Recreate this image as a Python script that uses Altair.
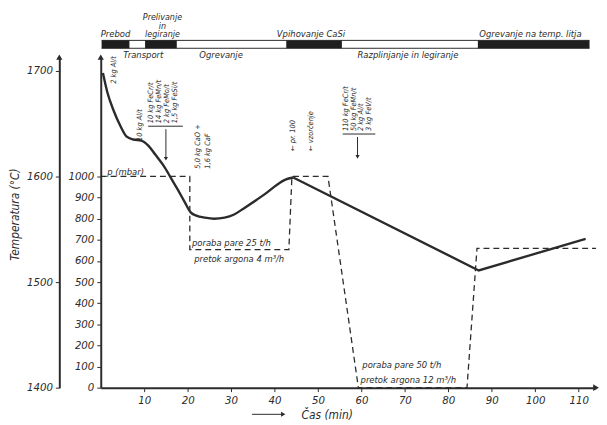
import altair as alt
import pandas as pd

FONT = "Liberation Sans Narrow, DejaVu Sans Condensed, sans-serif"
INK = "#2b2b2b"

# ---- temperature curve (°C) vs. time (min) ----
curve_t = [0.5, 1.5, 3.0, 4.5, 5.9, 7.5, 9.3, 11.0, 12.5, 14.5, 16.1, 17.8, 19.3,
           20.7, 22.0, 24.0, 26.1, 28.5, 30.7, 33.0, 35.9, 38.0, 40.5, 42.5, 44.3]
curve_T = [1698, 1680, 1662, 1648, 1638, 1635, 1634, 1629, 1621, 1610, 1599, 1587, 1576,
           1566, 1563, 1561, 1560, 1561, 1564, 1570, 1578, 1584, 1592, 1597, 1599]
line_t = [44.3, 87.0, 111.6]
line_T = [1599, 1511, 1541]

# ---- pressure p (mbar), dashed ----
p_t = [0, 20.5, 20.5, 43.3, 44.0, 52.3, 59.3, 84.3, 86.6, 114.0]
p_v = [1000, 1000, 654, 654, 1000, 1000, 0, 0, 660, 660]

# ---- operations bar ----
op_start = [0.2, 10.2, 42.7, 86.8]
op_end = [6.6, 17.5, 55.5, 112.5]
top_text = ["Prebod", "Vpihovanje CaSi", "Ogrevanje na temp. litja"]
top_t = [3.4, 48.4, 98.9]
top2_text = ["Prelivanje\nin\nlegiranje"]
top2_t = [14.2]
low_text = ["Transport", "Ogrevanje", "Razplinjanje in legiranje"]
low_t = [9.8, 27.7, 70.7]

# ---- vertical annotations (anchor = lower end, in mbar units) ----
ann_text = ["2 kg Al/t", "10 kg Al/t",
            "10 kg FeCr/t", "14 kg FeMn/t", "2 kg FeMo/t", "1,5 kg FeSi/t",
            "5,0 kg CaO +", "1,6 kg CaF",
            "\u2190  pr. 100", "\u2190  vzorčenje",
            "110 kg FeCr/t", "50 kg FeMn/t", "2 kg Al/t", "3 kg FeV/t"]
ann_t = [3.0, 9.1,
         11.6, 13.4, 15.2, 17.0,
         22.3, 24.6,
         44.2, 48.3,
         56.4, 58.2, 60.0, 61.8]
ann_p = [1439, 1168,
         1252, 1252, 1252, 1252,
         1037, 1037,
         1121, 1121,
         1215, 1215, 1215, 1215]

# underline + arrow of the two addition blocks
blk_t1 = [10.9, 55.7]
blk_t2 = [18.9, 63.2]
blk_line = [1238, 1201]
arr_t = [15.0, 59.1]
arr_top = [1224, 1187]
arr_bot = [1084, 1093]

# ---- horizontal notes ----
note_text = ["p (mbar)", "poraba pare 25 t/h", "pretok argona 4 m\u00b3/h",
             "poraba pare 50 t/h", "pretok argona 12 m\u00b3/h"]
note_t = [1.5, 21.0, 21.5, 60.2, 59.8]
note_p = [1022, 687, 607, 107, 37]

x_ticks = [10, 20, 30, 40, 50, 60, 70, 80, 90, 100, 110]
p_ticks = [0, 100, 200, 300, 400, 500, 600, 700, 800, 900, 1000]
T_ticks = [1400, 1500, 1600, 1700]

XDOM = [0, 114]
PDOM = [0, 1565]
TDOM = [1400, 1713]

xs = alt.Scale(domain=XDOM, nice=False, zero=False)
ps = alt.Scale(domain=PDOM, nice=False, zero=False)
Ts = alt.Scale(domain=TDOM, nice=False, zero=False)

x_axis = alt.Axis(values=x_ticks, grid=False, domainWidth=2, domainColor=INK,
                  tickColor=INK, tickSize=4, labelFont=FONT, labelFontSize=11.5,
                  labelFontStyle="italic", labelColor=INK, labelPadding=3, format="d",
                  labelOverlap=False,
                  title="Čas (min)", titleFont=FONT, titleFontSize=12,
                  titleFontStyle="italic", titleFontWeight="normal", titleColor=INK,
                  titleX=229, titleY=27, titleAlign="center", titleBaseline="middle")
p_axis = alt.Axis(values=p_ticks, grid=False, domainWidth=2, domainColor=INK,
                  tickColor=INK, tickSize=4, labelFont=FONT, labelFontSize=11.5,
                  labelFontStyle="italic", labelColor=INK, labelPadding=3, title=None,
                  labelOverlap=False, format="d", orient="left")
T_axis = alt.Axis(values=T_ticks, grid=False, domainWidth=2, domainColor=INK,
                  tickColor=INK, tickSize=4, labelFont=FONT, labelFontSize=11.5,
                  labelFontStyle="italic", labelColor=INK, labelPadding=3, format="d",
                  labelOverlap=False, orient="left", offset=42,
                  title="Temperatura (°C)", titleFont=FONT, titleFontSize=12,
                  titleFontStyle="italic", titleFontWeight="normal", titleColor=INK,
                  titleAngle=270, titleX=-45, titleY=159, titleAlign="center",
                  titleBaseline="middle")


def X(f):
    return alt.X(f, type="quantitative", scale=xs, axis=x_axis)


def Y(f):
    return alt.Y(f, type="quantitative", scale=ps, axis=p_axis)


def YT(f):
    return alt.Y(f, type="quantitative", scale=Ts, axis=T_axis)


df_curve = pd.DataFrame({"t": curve_t, "T": curve_T})
df_line = pd.DataFrame({"t": line_t, "T": line_T})
df_p = pd.DataFrame({"t": p_t, "p": p_v, "i": list(range(len(p_t)))})
df_op = pd.DataFrame({"a": op_start, "b": op_end})
df_top = pd.DataFrame({"t": top_t, "txt": top_text})
df_top2 = pd.DataFrame({"t": top2_t, "txt": top2_text})
df_low = pd.DataFrame({"t": low_t, "txt": low_text})
df_ann = pd.DataFrame({"t": ann_t, "p": ann_p, "txt": ann_text})
df_blk = pd.DataFrame({"a": blk_t1, "b": blk_t2, "p": blk_line})
df_arr = pd.DataFrame({"t": arr_t, "p1": arr_top, "p2": arr_bot})
df_note = pd.DataFrame({"t": note_t, "p": note_p, "txt": note_text})
df_bar = pd.DataFrame({"a": [min(op_start)], "b": [max(op_end)]})
df_xarrow = pd.DataFrame({"t": [XDOM[1]], "p": [0]})
df_yarrow = pd.DataFrame({"t": [0], "p": [PDOM[1]]})
df_title_arrow = pd.DataFrame({"a": [34.8], "b": [42.0]})

# --- layers on the mbar scale ---
dashed = alt.Chart(df_p).mark_line(color=INK, strokeWidth=1.3, strokeDash=[6, 4]).encode(
    x=X("t"), y=Y("p"), order="i:Q")

bar_lines = alt.Chart(df_bar).mark_rule(color=INK, strokeWidth=1).encode(
    x=X("a"), x2="b:Q", y=alt.value(-17))
bar_lines2 = alt.Chart(df_bar).mark_rule(color=INK, strokeWidth=1).encode(
    x=X("a"), x2="b:Q", y=alt.value(-9))
blocks = alt.Chart(df_op).mark_rect(color="#1e1e1e").encode(
    x=X("a"), x2="b:Q", y=alt.value(-17), y2=alt.value(-9))
top_lab = alt.Chart(df_top).mark_text(font=FONT, fontSize=9.5, fontStyle="italic",
                                      color=INK, baseline="bottom").encode(
    x=X("t"), y=alt.value(-18), text="txt:N")
top_lab2 = alt.Chart(df_top2).mark_text(font=FONT, fontSize=9, fontStyle="italic",
                                        color=INK, baseline="top", lineHeight=9,
                                        lineBreak="\n").encode(
    x=X("t"), y=alt.value(-45), text="txt:N")
low_lab = alt.Chart(df_low).mark_text(font=FONT, fontSize=9.5, fontStyle="italic",
                                      color=INK, baseline="middle").encode(
    x=X("t"), y=alt.value(-2), text="txt:N")

ann = alt.Chart(df_ann).mark_text(font=FONT, fontSize=7.5, fontStyle="italic", color=INK,
                                  angle=270, align="left", baseline="middle").encode(
    x=X("t"), y=Y("p"), text="txt:N")
blk = alt.Chart(df_blk).mark_rule(color=INK, strokeWidth=1).encode(
    x=X("a"), x2="b:Q", y=Y("p"))
arr = alt.Chart(df_arr).mark_rule(color=INK, strokeWidth=1).encode(
    x=X("t"), y=Y("p1"), y2="p2:Q")
arr_head = alt.Chart(df_arr).mark_point(shape="triangle-down", filled=True, color=INK,
                                        size=18, opacity=1).encode(
    x=X("t"), y=Y("p2"))
notes = alt.Chart(df_note).mark_text(font=FONT, fontSize=9.5, fontStyle="italic",
                                     color=INK, align="left", baseline="middle").encode(
    x=X("t"), y=Y("p"), text="txt:N")

xarrow = alt.Chart(df_xarrow).mark_point(shape="triangle-right", filled=True, color=INK,
                                         size=45, opacity=1).encode(
    x=X("t"), y=Y("p"))
yarrow = alt.Chart(df_yarrow).mark_point(shape="triangle-up", filled=True, color=INK,
                                         size=40, opacity=1).encode(
    x=X("t"), y=Y("p"))
tarrow = alt.Chart(df_yarrow).mark_point(shape="triangle-up", filled=True, color=INK,
                                         size=40, opacity=1).encode(
    x=alt.value(-42), y=alt.value(0))
title_arrow = alt.Chart(df_title_arrow).mark_rule(color=INK, strokeWidth=1).encode(
    x=X("a"), x2="b:Q", y=alt.value(362))
title_head = alt.Chart(df_title_arrow).mark_point(shape="triangle-right", filled=True,
                                                  color=INK, size=25, opacity=1).encode(
    x=X("b"), y=alt.value(362))

p_group = alt.layer(dashed, bar_lines, bar_lines2, blocks, top_lab, top_lab2, low_lab,
                    ann, blk, arr, arr_head, notes, xarrow, yarrow, tarrow,
                    title_arrow, title_head)

# --- layers on the temperature scale ---
curve = alt.Chart(df_curve).mark_line(color=INK, strokeWidth=2.4,
                                      interpolate="monotone").encode(
    x=X("t"), y=YT("T"))
straight = alt.Chart(df_line).mark_line(color=INK, strokeWidth=2.4).encode(
    x=X("t"), y=YT("T"))
T_group = alt.layer(curve, straight)

chart = alt.layer(p_group, T_group).resolve_scale(y="independent").properties(
    width=502, height=335,
    autosize=alt.AutoSizeParams(type="none"),
    padding={"left": 94, "top": 47, "right": 3, "bottom": 34},
    background="white",
).configure_view(stroke=None)

chart.save("out.html", embed_options={"renderer": "svg", "actions": False})
